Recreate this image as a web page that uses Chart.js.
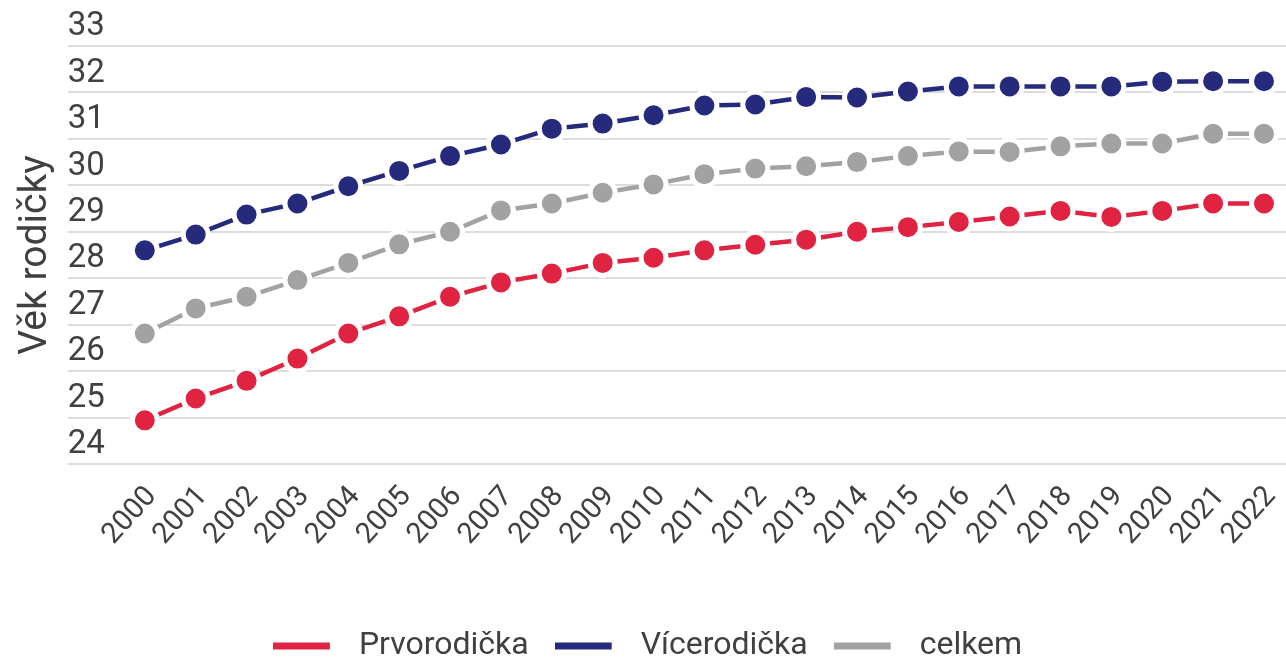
<!DOCTYPE html>
<html>
<head>
<meta charset="utf-8">
<script src="https://cdn.jsdelivr.net/npm/chart.js@4.4.1/dist/chart.umd.min.js"></script>
<style>
  html, body { margin: 0; padding: 0; background: #ffffff; }
  #wrap { width: 1286px; height: 664px; }
</style>
</head>
<body>
<div id="wrap"><canvas id="c" width="1286" height="664"></canvas></div>
<script>
// ---- data ----
const years = [2000, 2001, 2002, 2003, 2004, 2005, 2006, 2007, 2008, 2009, 2010, 2011,
               2012, 2013, 2014, 2015, 2016, 2017, 2018, 2019, 2020, 2021, 2022];
const prvorodicka = [24.94, 25.41, 25.79, 26.27, 26.81, 27.18, 27.60, 27.91, 28.10, 28.33, 28.44, 28.60,
                     28.72, 28.83, 29.00, 29.10, 29.21, 29.33, 29.45, 29.32, 29.45, 29.61, 29.61];
const vicerodicka = [28.60, 28.94, 29.37, 29.61, 29.98, 30.31, 30.63, 30.88, 31.22, 31.33, 31.51, 31.72,
                     31.74, 31.90, 31.89, 32.02, 32.13, 32.13, 32.13, 32.13, 32.23, 32.24, 32.24];
const celkem      = [26.81, 27.35, 27.60, 27.96, 28.33, 28.73, 29.00, 29.46, 29.61, 29.84, 30.02, 30.24,
                     30.36, 30.41, 30.50, 30.63, 30.73, 30.72, 30.84, 30.90, 30.90, 31.11, 31.11];
const seriesNames = ['Prvorodička', 'Vícerodička', 'celkem'];
const yTicks = [24, 25, 26, 27, 28, 29, 30, 31, 32, 33];
const yTitle = 'Věk rodičky';

// ---- styles ----
const colors = ['#df2340', '#252a7d', '#a2a2a2'];
const textColor = '#404040';

Chart.defaults.font.family = 'Roboto';

function swatch(color) {
  const c = document.createElement('canvas');
  c.width = 70; c.height = 8;
  const g = c.getContext('2d');
  g.fillStyle = color;
  g.fillRect(0, 0.5, 57, 7);
  return c;
}

function mkData(vals) { return years.map((y, i) => ({ x: y, y: vals[i] })); }

const seriesValues = [prvorodicka, vicerodicka, celkem];
const datasets = seriesValues.map((vals, i) => ({
  label: seriesNames[i],
  data: mkData(vals),
  borderColor: colors[i],
  backgroundColor: colors[i],
  borderWidth: 4.5,
  pointRadius: 12.5,
  pointHoverRadius: 12.5,
  pointBorderWidth: 5,
  pointBorderColor: '#ffffff',
  pointBackgroundColor: colors[i],
  tension: 0,
  clip: false
}));

new Chart(document.getElementById('c'), {
  type: 'line',
  data: { datasets },
  options: {
    responsive: false,
    animation: false,
    events: [],
    layout: { autoPadding: false, padding: { left: 9, right: 0, top: 46, bottom: -8 } },
    scales: {
      x: {
        type: 'linear',
        min: 1998.486,
        max: 2022.433,
        grid: { display: false, drawTicks: false },
        border: { display: false },
        afterBuildTicks: (scale) => { scale.ticks = years.map(v => ({ value: v })); },
        afterFit: (scale) => { scale.height = 140; scale.paddingLeft = 0; scale.paddingRight = 0; },
        ticks: {
          minRotation: 48,
          maxRotation: 48,
          autoSkip: false,
          padding: 16,
          labelOffset: 7,
          color: textColor,
          font: { size: 29 },
          callback: (v) => String(v)
        }
      },
      y: {
        min: 24,
        max: 33,
        grid: { color: '#dcdcdc', lineWidth: 2, drawTicks: false },
        border: { display: false },
        afterBuildTicks: (scale) => { scale.ticks = yTicks.map(v => ({ value: v })); },
        afterFit: (scale) => { scale.paddingTop = 0; scale.paddingBottom = 0; },
        ticks: {
          mirror: true,
          padding: 0,
          labelOffset: -19,
          color: textColor,
          font: { size: 33 },
          callback: (v) => String(v)
        },
        title: {
          display: true,
          text: yTitle,
          color: textColor,
          font: { size: 39 },
          padding: { top: 4, bottom: 8 }
        }
      }
    },
    plugins: {
      tooltip: { enabled: false },
      legend: {
        position: 'bottom',
        labels: {
          usePointStyle: true,
          pointStyleWidth: 70,
          boxHeight: 8,
          padding: 26,
          color: textColor,
          font: { size: 32 },
          generateLabels: (chart) => {
            const items = Chart.defaults.plugins.legend.labels.generateLabels(chart);
            items.forEach((it, i) => { it.pointStyle = swatch(colors[i]); it.lineWidth = 0; });
            return items;
          }
        }
      }
    }
  }
});
</script>
</body>
</html>
